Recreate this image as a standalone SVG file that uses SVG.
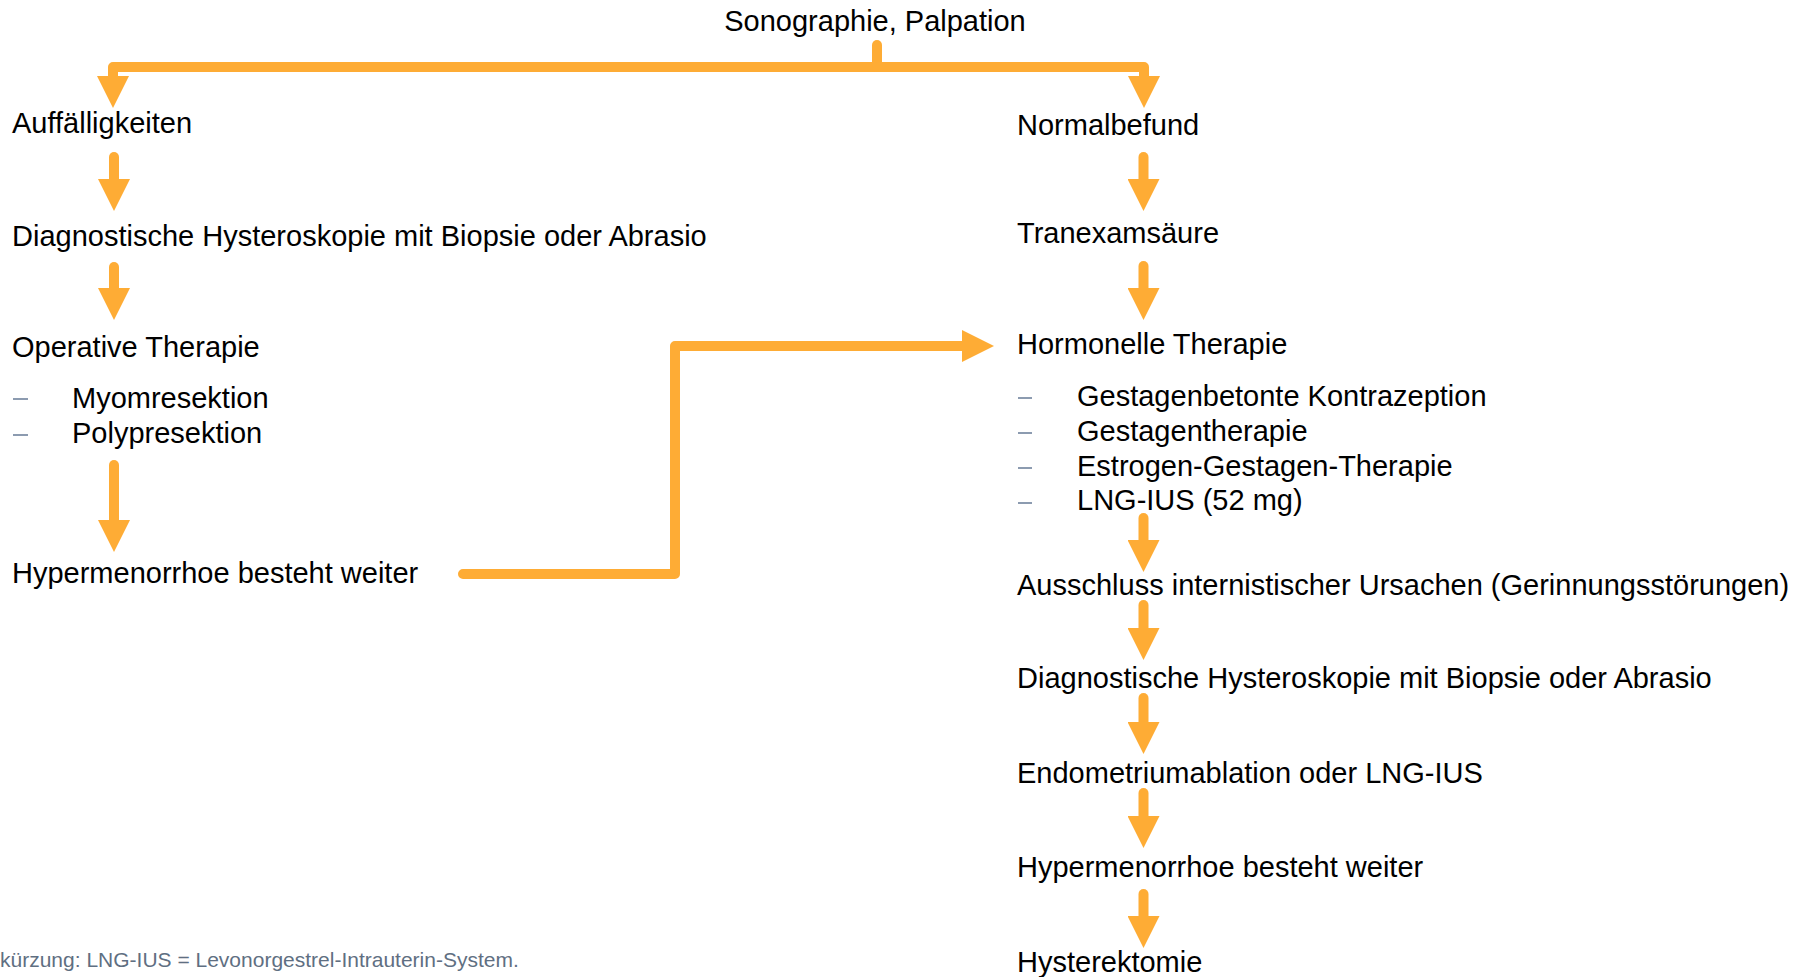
<svg xmlns="http://www.w3.org/2000/svg" width="1804" height="977" viewBox="0 0 1804 977">
<style>
  text { font-family: "Liberation Sans", Arial, sans-serif; font-size: 29px; fill: #000; }
  .note { font-size: 21px; fill: #5f6f82; }
  .dash { stroke: #8c9bb0; stroke-width: 2; }
  .conn { fill: none; stroke: #FEAC35; stroke-width: 10; stroke-linecap: round; stroke-linejoin: round; }
</style>
<defs>
  <marker id="ah" markerUnits="userSpaceOnUse" markerWidth="32" markerHeight="32" refX="0" refY="15.5" orient="auto" viewBox="0 0 31 31">
    <path d="M0,0 L31,15.5 L0,31 Z" fill="#FEAC35"/>
  </marker>
</defs>
<rect width="1804" height="977" fill="#fff"/>
<g id="connectors">
  <path class="conn" d="M877,45 V67"/>
  <path class="conn" d="M877,67 H113 V76" marker-end="url(#ah)"/>
  <path class="conn" d="M877,67 H1144 V76" marker-end="url(#ah)"/>
  <path class="conn" d="M114,157 V179" marker-end="url(#ah)"/>
  <path class="conn" d="M114,267 V288" marker-end="url(#ah)"/>
  <path class="conn" d="M114,465 V520" marker-end="url(#ah)"/>
  <path class="conn" d="M463,574 H675 V346 H962" marker-end="url(#ah)"/>
  <path class="conn" d="M1143.5,157 V179" marker-end="url(#ah)"/>
  <path class="conn" d="M1143.5,266 V288" marker-end="url(#ah)"/>
  <path class="conn" d="M1143.5,518 V540" marker-end="url(#ah)"/>
  <path class="conn" d="M1143.5,605 V628" marker-end="url(#ah)"/>
  <path class="conn" d="M1143.5,698 V722" marker-end="url(#ah)"/>
  <path class="conn" d="M1143.5,793 V816" marker-end="url(#ah)"/>
  <path class="conn" d="M1143.5,894 V916" marker-end="url(#ah)"/>
</g>
<g id="n-start"><text x="875" y="31" text-anchor="middle">Sonographie, Palpation</text></g>
<g id="n-auff"><text x="12" y="133">Auffälligkeiten</text></g>
<g id="n-diag-l"><text x="12" y="246">Diagnostische Hysteroskopie mit Biopsie oder Abrasio</text></g>
<g id="n-op">
  <text x="12" y="357">Operative Therapie</text>
  <line class="dash" x1="13" y1="399" x2="28" y2="399"/>
  <text x="72" y="408">Myomresektion</text>
  <line class="dash" x1="13" y1="435" x2="28" y2="435"/>
  <text x="72" y="443">Polypresektion</text>
</g>
<g id="n-hyper-l"><text x="12" y="583">Hypermenorrhoe besteht weiter</text></g>
<g id="n-normal"><text x="1017" y="135">Normalbefund</text></g>
<g id="n-tranex"><text x="1017" y="243">Tranexamsäure</text></g>
<g id="n-hormon">
  <text x="1017" y="354">Hormonelle Therapie</text>
  <line class="dash" x1="1018" y1="398" x2="1032" y2="398"/>
  <text x="1077" y="406">Gestagenbetonte Kontrazeption</text>
  <line class="dash" x1="1018" y1="433" x2="1032" y2="433"/>
  <text x="1077" y="441">Gestagentherapie</text>
  <line class="dash" x1="1018" y1="468" x2="1032" y2="468"/>
  <text x="1077" y="476">Estrogen-Gestagen-Therapie</text>
  <line class="dash" x1="1018" y1="503" x2="1032" y2="503"/>
  <text x="1077" y="510">LNG-IUS (52 mg)</text>
</g>
<g id="n-aussch"><text x="1017" y="595">Ausschluss internistischer Ursachen (Gerinnungsstörungen)</text></g>
<g id="n-diag-r"><text x="1017" y="688">Diagnostische Hysteroskopie mit Biopsie oder Abrasio</text></g>
<g id="n-endo"><text x="1017" y="783">Endometriumablation oder LNG-IUS</text></g>
<g id="n-hyper-r"><text x="1017" y="877">Hypermenorrhoe besteht weiter</text></g>
<g id="n-hyst"><text x="1017" y="972">Hysterektomie</text></g>
<g id="footnote"><text class="note" x="0" y="967">kürzung: LNG-IUS = Levonorgestrel-Intrauterin-System.</text></g>
</svg>
